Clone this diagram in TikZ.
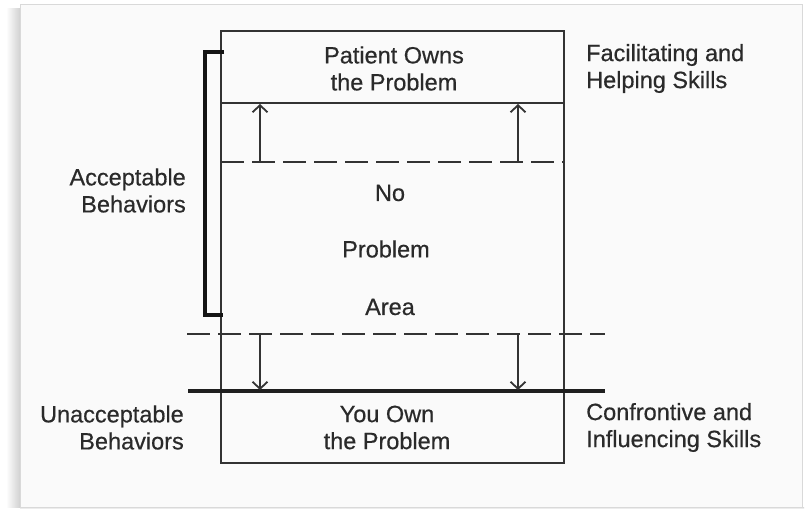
\documentclass[tikz,border=0pt]{standalone}
\usepackage{fontspec}
\setmainfont{Liberation Sans}
\newfontfamily\labelfont{Liberation Sans}[FakeBold=0.5]
\usetikzlibrary{arrows.meta}
\definecolor{ink}{HTML}{2A2A2A}
\definecolor{rule}{HTML}{333333}
\begin{document}
\begin{tikzpicture}[x=1pt,y=-1pt,
  label/.style={text=ink,inner sep=0pt,font=\labelfont\fontsize{23.5}{27}\selectfont},
  boxline/.style={draw=rule,line width=2pt},
  thinline/.style={draw=rule,line width=1.4pt},
  dashline/.style={draw=rule,line width=2pt,dash pattern=on 23pt off 8pt},
  thickline/.style={draw=black!88,line width=3.2pt},
  bracket/.style={draw=black!92,line width=3.3pt},
  movearrow/.style={draw=rule,line width=1.7pt,-{Straight Barb[length=7pt,width=15pt,line width=1.8pt]}}]
\useasboundingbox (0,0) rectangle (806,509);
\fill[white] (0,0) rectangle (806,509);
% sheet with a soft shadow along its left and lower edges
\shade[left color=white,right color=black!18] (6,8) rectangle (20,507);
\shade[top color=black!15,bottom color=white] (20,507) rectangle (804,509);
\fill[black!2] (20,4) rectangle (802,507);
\draw[black!15,line width=0.8pt] (20,4) rectangle (802,507);

% main box and its bands
\draw[boxline] (221,31) rectangle (564,463);
\coordinate (ownL) at (221,103);
\coordinate (ownR) at (564,103);
\draw[thinline] (ownL) -- (ownR);
\coordinate (topdL) at (221,162);
\coordinate (topdR) at (564,162);
\draw[dashline] (topdL) -- (topdR);
\coordinate (lowdL) at (187,334);
\coordinate (lowdR) at (605,334);
\draw[dashline] (lowdL) -- (lowdR);
\coordinate (youL) at (188,391);
\coordinate (youR) at (605,391);
\draw[thickline] (youL) -- (youR);

% bracket for acceptable behaviours
\coordinate (brTop) at (224,52);
\coordinate (brTopC) at (205,52);
\coordinate (brBotC) at (205,315);
\coordinate (brBot) at (223,315);
\draw[bracket] (brTop) -- (brTopC) -- (brBotC) -- (brBot);

% arrows widening and narrowing the no-problem area
\coordinate (ua1s) at (260,162);
\coordinate (ua1e) at (260,104);
\coordinate (ua2s) at (518,162);
\coordinate (ua2e) at (518,104);
\coordinate (da1s) at (260,334);
\coordinate (da1e) at (260,390);
\coordinate (da2s) at (518,334);
\coordinate (da2e) at (518,390);
\draw[movearrow] (ua1s) -- (ua1e);
\draw[movearrow] (ua2s) -- (ua2e);
\draw[movearrow] (da1s) -- (da1e);
\draw[movearrow] (da2s) -- (da2e);

% texts inside the box
\node[label,align=center] (patient) at (394,68.5) {Patient Owns\\the Problem};
\node[label] (no) at (390,193) {No};
\node[label] (problem) at (386,249) {Problem};
\node[label] (area) at (390,307) {Area};
\node[label,align=center] (you) at (387,427.5) {You Own\\the Problem};

% texts beside the box
\node[label,align=right,anchor=east] (accept) at (186,190.5) {Acceptable\\Behaviors};
\node[label,align=right,anchor=east] (unaccept) at (184,427.5) {Unacceptable\\Behaviors};
\node[label,align=left,anchor=west] (facil) at (586,68.5) {Facilitating and\\Helping Skills};
\node[label,align=left,anchor=west] (confr) at (586,427.5) {Confrontive and\\Influencing Skills};
\end{tikzpicture}
\end{document}
